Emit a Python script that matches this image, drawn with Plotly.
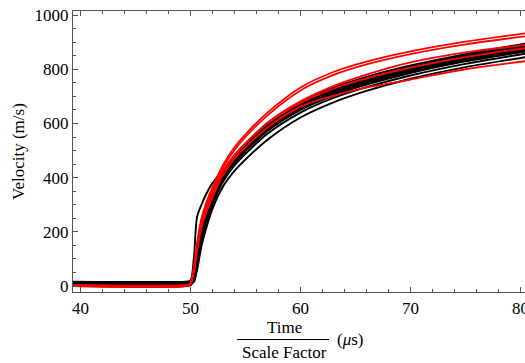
import plotly.graph_objects as go

# Time grid (Time / Scale Factor, microseconds)
T = [39.3, 49.6, 50.0, 50.3, 50.6, 51.0, 51.5, 52.0, 53.0, 54.0, 55.0, 57.0,
     60.0, 63.0, 66.0, 70.0, 75.0, 80.5]

# Black series (velocity, m/s)
b01 = [16, 16, 18, 20, 85, 180, 256, 320, 405, 462, 505, 580, 655, 708, 748, 790, 832, 868]
b02 = [4, 4, 6, 32, 105, 200, 273, 335, 420, 476, 520, 595, 672, 725, 764, 806, 848, 885]
b03 = [2, 2, 5, 23, 90, 185, 258, 322, 408, 465, 508, 582, 660, 714, 754, 797, 840, 878]
b04 = [6, 6, 8, 15, 75, 170, 246, 310, 398, 455, 498, 572, 650, 703, 743, 786, 829, 866]
b05 = [0, 0, 3, 28, 100, 195, 268, 330, 415, 470, 514, 590, 668, 722, 762, 805, 848, 890]
b06 = [10, 10, 12, 18, 80, 175, 250, 315, 402, 458, 500, 575, 652, 706, 746, 789, 832, 870]
b07 = [3, 3, 5, 38, 115, 208, 280, 342, 425, 480, 524, 600, 678, 732, 772, 814, 856, 895]
b08 = [8, 8, 10, 16, 70, 160, 236, 300, 388, 445, 488, 562, 640, 694, 734, 777, 820, 858]
b09 = [1, 1, 4, 26, 93, 188, 260, 324, 410, 466, 510, 585, 662, 716, 756, 799, 842, 880]
b10 = [5, 5, 7, 21, 87, 182, 254, 318, 404, 460, 503, 578, 656, 710, 750, 793, 836, 874]
b11 = [12, 12, 14, 18, 60, 148, 223, 285, 370, 425, 467, 540, 622, 678, 720, 765, 808, 845]
b12 = [15, 15, 20, 100, 255, 300, 345, 380, 428, 468, 505, 578, 654, 708, 748, 790, 832, 870]
b13 = [7, 7, 9, 30, 103, 198, 270, 332, 416, 472, 515, 592, 670, 724, 764, 807, 850, 888]

# Red series (velocity, m/s)
r1 = [2, 2, 10, 70, 160, 250, 315, 365, 450, 512, 560, 640, 733, 790, 828, 866, 902, 933]
r2 = [0, 0, 8, 60, 150, 240, 305, 355, 440, 502, 550, 630, 722, 779, 818, 856, 892, 922]
r3 = [3, 3, 10, 55, 140, 228, 292, 342, 425, 482, 526, 603, 682, 738, 780, 825, 862, 890]
r4 = [1, 1, 6, 50, 130, 215, 278, 328, 412, 470, 512, 585, 662, 703, 732, 762, 800, 830]
r5 = [4, 4, 9, 58, 145, 232, 296, 345, 428, 484, 527, 600, 676, 728, 766, 806, 845, 878]

black_series = [b01, b02, b03, b04, b05, b06, b07, b08, b09, b10, b11, b12, b13]
red_series = [r1, r2, r3, r4, r5]

x_ticks = [40, 50, 60, 70, 80]
y_ticks = [0, 200, 400, 600, 800, 1000]

fig = go.Figure()
for s in black_series:
    fig.add_trace(go.Scatter(x=T, y=s, mode="lines",
                             line=dict(color="black", width=1.9, shape="spline", smoothing=0.8),
                             showlegend=False, hoverinfo="skip"))
for s in red_series:
    fig.add_trace(go.Scatter(x=T, y=s, mode="lines",
                             line=dict(color="#ff0000", width=1.8, shape="spline", smoothing=0.8),
                             showlegend=False, hoverinfo="skip"))

W, H = 525, 363
L, R, TOP, BOT = 73, 525, 11, 292
pw, ph = R - L, BOT - TOP

def px(x):
    return (x - L) / pw

def py(y):
    return (BOT - y) / ph

serif = "Liberation Serif"
axis_color = "#555555"

fig.update_layout(
    width=W, height=H,
    margin=dict(l=L, r=W - R, t=TOP, b=H - BOT, pad=0, autoexpand=False),
    paper_bgcolor="white", plot_bgcolor="white",
    font=dict(family=serif, size=17, color="black"),
    xaxis=dict(range=[39.32, 80.41], tickvals=x_ticks, ticks="inside", ticklen=5,
               tickcolor=axis_color, showline=True, linecolor=axis_color, linewidth=1.2,
               mirror="ticks", showgrid=False, zeroline=False, automargin=False,
               ticklabeloverflow="allow",
               minor=dict(dtick=2, ticks="inside", ticklen=3, tickcolor=axis_color, showgrid=False),
               tickfont=dict(family=serif, size=17, color="black")),
    yaxis=dict(range=[-22, 1015], tickvals=y_ticks, ticks="inside", ticklen=5,
               tickcolor=axis_color, showline=True, linecolor=axis_color, linewidth=1.2,
               mirror=False, showgrid=False, zeroline=False, automargin=False,
               ticklabeloverflow="allow",
               minor=dict(dtick=50, ticks="inside", ticklen=3, tickcolor=axis_color, showgrid=False),
               tickfont=dict(family=serif, size=17, color="black")),
)

# Axis titles
common = dict(xref="paper", yref="paper", showarrow=False, xanchor="center", yanchor="middle",
              font=dict(family=serif, size=17, color="black"))
fig.add_annotation(text="Velocity (m/s)", x=px(18), y=py(152), textangle=-90, **common)
fig.add_annotation(text="Time", x=px(284), y=py(327), **common)
fig.add_annotation(text="Scale Factor", x=px(284), y=py(352), **common)
fig.add_annotation(text="(<i>μ</i>s)", x=px(350), y=py(340), **common)
fig.add_shape(type="line", xref="paper", yref="paper",
              x0=px(237), x1=px(329), y0=py(339.5), y1=py(339.5),
              line=dict(color="black", width=1))

fig.write_html("out.html", config={"displayModeBar": False},
               post_script="document.body.style.margin='0';document.body.style.padding='0';document.body.style.overflow='hidden';")
